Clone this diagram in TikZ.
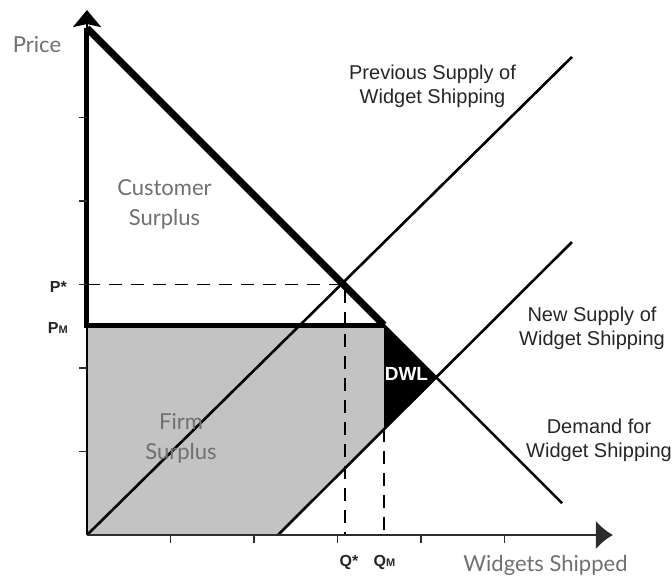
\documentclass[tikz,border=0pt]{standalone}
\usepackage{fontspec}
\usepackage{tkz-euclide}
\usetikzlibrary{arrows.meta}

\newfontfamily\latofont{Lato}
\newfontfamily\arialfont{Liberation Sans}
\definecolor{surplusgray}{RGB}{195,195,195}
\definecolor{labelgray}{RGB}{112,112,112}
\definecolor{axisgray}{RGB}{45,45,45}

\begin{document}
\begin{tikzpicture}[x=83.5pt, y=83.5pt,
  curve/.style={line width=2.6pt, black},
  guide/.style={line width=1.3pt, black, dash pattern=on 13pt off 9pt},
  tickmark/.style={line width=1.3pt, axisgray},
  areatext/.style={font=\latofont\fontsize{22}{30}\selectfont, text=labelgray, align=center, inner sep=0pt},
  curvetext/.style={font=\arialfont\fontsize{20}{24}\selectfont, text=black!85, align=center, inner sep=0pt},
  valuetext/.style={font=\arialfont\bfseries\fontsize{16}{16}\selectfont, text=black!85, inner sep=0pt}]

\useasboundingbox (-1.0419,-0.4910) rectangle (7.0060,6.4072);

% Axes and curve end points
\tkzDefPoint(0,0){O}
\tkzDefPoint(0,6.287){Ytop}
\tkzDefPoint(6.299,0){Xend}
\tkzDefPoint(0,6.07){Dtop}
\tkzDefPoint(5.69,0.38){Dend}
\tkzDefPoint(5.808,5.725){Sold}
\tkzDefPoint(2.287,0){Nstart}
\tkzDefPoint(5.808,3.509){Nend}

% Market points
\tkzDefPoint(3.557,2.513){M}
\tkzDefPoint(3.557,1.270){F}
\tkzDefPoint(4.179,1.891){E}
\tkzDefPoint(0,2.513){PM}
\tkzDefPoint(0,3){Pstar}
\tkzDefPoint(3.09,3){Estar}
\tkzDefPoint(3.09,0){Qstar}
\tkzDefPoint(3.557,0){QM}

% Firm surplus and dead weight loss
\fill[surplusgray] (PM) -- (M) -- (F) -- (Nstart) -- (O) -- cycle;
\fill[black] (M) -- (E) -- (F) -- cycle;

% Guides
\draw[guide] (Pstar) -- (Estar) -- (Qstar);
\draw[guide] (F) -- (QM);

% Supply and demand
\draw[curve] (O) -- (Sold);
\draw[curve] (Nstart) -- (Nend);
\draw[curve] (Dtop) -- (Dend);

% Customer surplus outline
\draw[line width=5pt, line join=miter] (Dtop) -- (PM) -- (M);
\draw[line width=7pt] (Dtop) -- (M);

% Axes
\draw[line width=2.8pt, -{Stealth[length=17pt, width=28pt, inset=3pt]}] (O) -- (Ytop);
\draw[line width=2.8pt, axisgray, -{Latex[length=17pt, width=29pt]}] (O) -- (Xend);
\foreach \k in {1,...,5} {
  \draw[tickmark] (0,\k) -- (-0.09,\k);
  \draw[tickmark] (\k,0) -- (\k,-0.09);
}

% Labels
\node[areatext, anchor=base] (price) at (-0.599,5.784) {Price};
\node[areatext, anchor=base] (widgets) at (5.491,-0.443) {Widgets Shipped};
\node[areatext] (customer) at (0.928,3.964) {Customer\\Surplus};
\node[areatext] (firm) at (1.126,1.162) {Firm\\Surplus};

\node[curvetext] (oldsupply) at (4.138,5.377) {Previous Supply of\\Widget Shipping};
\node[curvetext] (newsupply) at (6.048,2.479) {New Supply of\\Widget Shipping};
\node[curvetext] (demand) at (6.132,1.138) {Demand for\\Widget Shipping};

\node[valuetext, anchor=base east] (pstarlabel) at (-0.24,2.91) {P*};
\node[valuetext, anchor=base east] (pmlabel) at (-0.228,2.419) {P{\fontsize{11}{11}\selectfont M}};
\node[valuetext, anchor=base] (qstarlabel) at (3.138,-0.383) {Q*};
\node[valuetext, anchor=base] (qmlabel) at (3.563,-0.383) {Q{\fontsize{11}{11}\selectfont M}};

\node[font=\arialfont\bfseries\fontsize{19}{19}\selectfont, text=white, inner sep=0pt] (dwl) at (3.826,1.928) {DWL};

\end{tikzpicture}
\end{document}
